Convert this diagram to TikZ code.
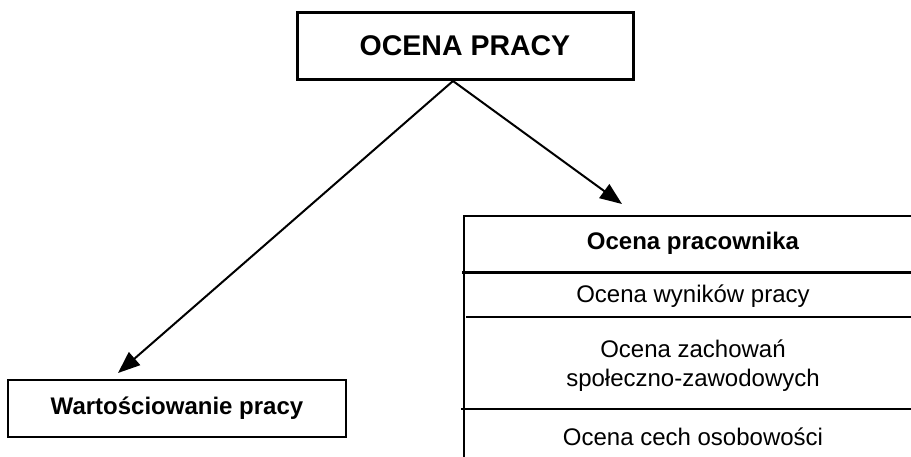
\documentclass[tikz,border=0pt]{standalone}
\usepackage{fontspec}
\setmainfont{Liberation Sans}
\usetikzlibrary{arrows.meta,calc}

\begin{document}
\begin{tikzpicture}[x=1pt,y=-1pt,
    box/.style={draw,line width=2pt,inner sep=0pt,font=\fontsize{24}{29}\selectfont\bfseries},
    conn/.style={line width=2pt,-{Triangle[length=22pt,width=17pt]}},
    row/.style={inner sep=0pt,align=center,font=\fontsize{24}{29}\selectfont}]
  \useasboundingbox (0,0) rectangle (911,457);

  \node[box,line width=3pt,minimum width=336pt,minimum height=67pt,font=\fontsize{28.5}{34}\selectfont\bfseries] (ocena) at (465,46) {OCENA PRACY};
  \node[box,minimum width=338pt,minimum height=57pt] (wart) at (177,408.5) {Wartościowanie pracy};

  % the open table on the right
  \draw[line width=2pt] (911,216) -| (464,457);
  \draw[line width=3pt] (462,273) -- (911,273);
  \draw[line width=1.5pt] (466,317) -- (911,317);
  \draw[line width=2pt] (461,409) -- (911,409);

  \node[row,font=\fontsize{24}{29}\selectfont\bfseries] (prac) at (693,243) {Ocena pracownika};
  \node[row] (wyn) at (693,296) {Ocena wyników pracy};
  \node[row] (zach) at (693,366) {Ocena zachowań\\społeczno-zawodowych};
  \node[row] (cech) at (693,437) {Ocena cech osobowości};

  \coordinate (split) at ($(ocena.south)+(-12,0)$);
  \coordinate (lend) at (118,373);
  \coordinate (rend) at (622,204);
  \draw[conn] (split) -- (lend);
  \draw[conn] (split) -- (rend);
\end{tikzpicture}
\end{document}
